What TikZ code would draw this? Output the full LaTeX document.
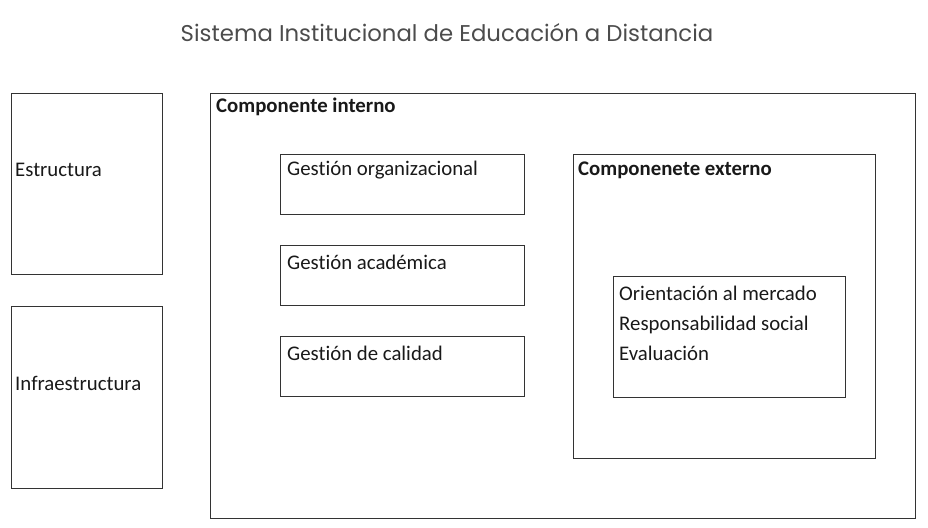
\documentclass[tikz,border=0pt]{standalone}
\usepackage{fontspec}
\setmainfont{Carlito}[Ligatures=CommonOff]
\newfontfamily\titlefont{Poppins}
\usetikzlibrary{positioning}

\begin{document}
\begin{tikzpicture}[x=1pt, y=-1pt,
    box/.style={rectangle, draw=black!80, line width=0.9pt, anchor=north west, inner sep=0pt},
    txt/.style={anchor=west, inner sep=0pt, font=\fontsize{20.8}{30}\selectfont, text=black!90},
    head/.style={txt, font=\fontsize{20.8}{30}\selectfont\bfseries}]

    \useasboundingbox (0,0) rectangle (928,527);

    % Titulo
    \node[font=\titlefont\fontsize{22.8}{26}\selectfont, text=black!70] (title) at (447,33)
      {Sistema Institucional de Educación a Distancia};

    % Columna izquierda
    \node[box, minimum width=151pt, minimum height=181pt] (estr) at (11,93) {};
    \node[box, minimum width=151pt, minimum height=182pt] (infra) at (11,306) {};
    \node[txt] (estr-txt) at (15,170) {Estructura};
    \node[txt] (infra-txt) at (15,383) {Infraestructura};

    % Componente interno
    \node[box, minimum width=705pt, minimum height=425pt] (interno) at (210,93) {};
    \node[head] (interno-txt) at (216,107) {Componente interno};

    \node[box, minimum width=244pt, minimum height=60pt] (org) at (280,154) {};
    \node[box, minimum width=244pt, minimum height=60pt] (acad) at (280,245) {};
    \node[box, minimum width=244pt, minimum height=60pt] (cal) at (280,336) {};
    \node[txt] (org-txt) at (287,170) {Gestión organizacional};
    \node[txt] (acad-txt) at (287,262) {Gestión académica};
    \node[txt] (cal-txt) at (287,353) {Gestión de calidad};

    % Componente externo
    \node[box, minimum width=302pt, minimum height=304pt] (externo) at (573,154) {};
    \node[head] (externo-txt) at (578,170) {Componenete externo};

    \node[box, minimum width=232pt, minimum height=121pt] (ejes) at (613,276) {};
    \node[txt, align=left] (ejes-txt) at (619,323)
      {Orientación al mercado\\Responsabilidad social\\Evaluación};
  \end{tikzpicture}
\end{document}
